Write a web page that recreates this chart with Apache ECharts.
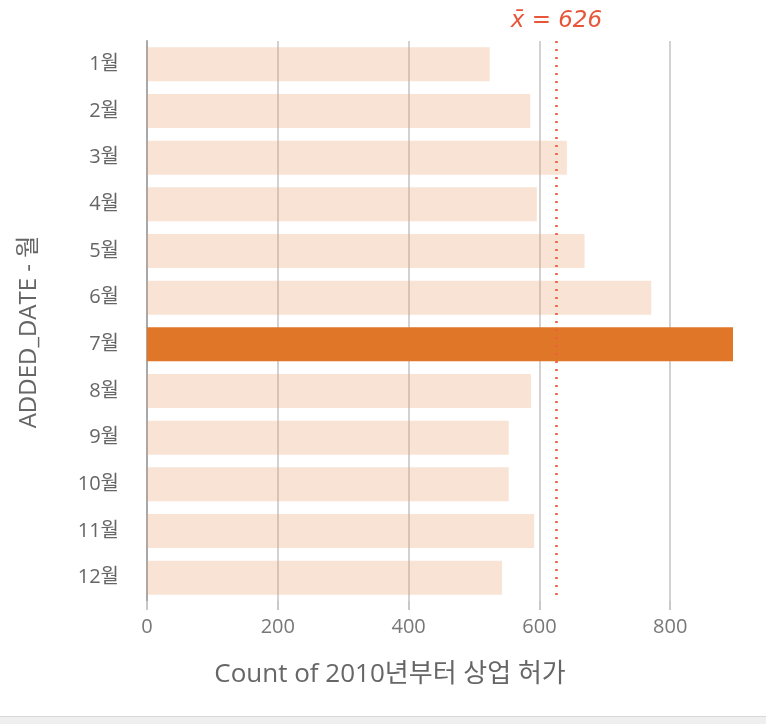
<!DOCTYPE html>
<html>
<head>
<meta charset="utf-8">
<script src="https://cdn.jsdelivr.net/npm/echarts@6/dist/echarts.min.js"></script>
<style>
  html, body { margin: 0; padding: 0; background: #fff; }
  #chart { width: 766px; height: 724px; }
</style>
</head>
<body>
<div id="chart"></div>
<script>
// Monthly counts of business permits since 2010
const months = ['1월', '2월', '3월', '4월', '5월', '6월', '7월', '8월', '9월', '10월', '11월', '12월'];
const counts = [524, 586, 642, 596, 669, 771, 896, 587, 553, 553, 592, 543];
const highlightMonth = '7월';
const xTicks = [0, 200, 400, 600, 800];

const FONT = '"Open Sans", "Noto Sans CJK KR", sans-serif';
const LIGHT = 'rgba(235,162,112,0.3)';
const DARK = '#E07628';

const chart = echarts.init(document.getElementById('chart'), null, { renderer: 'canvas' });

chart.setOption({
  animation: false,
  backgroundColor: '#fff',
  grid: { left: 147, right: 33, top: 41, height: 560, containLabel: false },
  xAxis: {
    type: 'value',
    min: xTicks[0],
    max: Math.max(...counts),
    interval: 200,
    name: 'Count of 2010년부터 상업 허가',
    nameLocation: 'middle',
    nameGap: 61,
    nameTextStyle: {
      fontFamily: FONT, fontSize: 26, color: '#666', verticalAlign: 'top',
      padding: [0, 100, 0, 0]
    },
    axisLine: { show: false },
    axisTick: { show: true, length: 9, lineStyle: { color: '#c8c8c8', width: 2 } },
    axisLabel: {
      margin: 16, fontFamily: FONT, fontSize: 20, color: '#777',
      showMaxLabel: false,
      formatter: v => (xTicks.includes(v) ? String(v) : '')
    },
    splitLine: { show: true, showMaxLine: false, lineStyle: { color: '#d2d2d2', width: 2 } }
  },
  yAxis: {
    type: 'category',
    data: months,
    inverse: true,
    name: 'ADDED_DATE - 월',
    nameLocation: 'middle',
    nameGap: 106,
    nameRotate: 90,
    nameTextStyle: { fontFamily: FONT, fontSize: 24, color: '#666', padding: [0, 22, 0, 0] },
    axisLine: { show: true, lineStyle: { color: '#a8a8a8', width: 2 } },
    axisTick: { show: false },
    axisLabel: { margin: 28, fontFamily: FONT, fontSize: 20, color: '#666' }
  },
  series: [{
    type: 'bar',
    barCategoryGap: '27%',
    z: 3,
    data: counts.map((v, i) => ({
      value: v,
      itemStyle: { color: months[i] === highlightMonth ? DARK : LIGHT }
    })),
    markLine: {
      silent: true,
      symbol: 'none',
      lineStyle: { color: '#E8603C', type: [2, 6], width: 2.5 },
      label: {
        show: true,
        position: 'start',
        distance: 8,
        formatter: p => 'x̄ = ' + Math.round(p.value),
        fontFamily: '"DejaVu Sans", sans-serif',
        fontStyle: 'italic',
        fontSize: 23,
        color: '#E8563A'
      },
      data: [{ type: 'average' }]
    }
  }],
  graphic: [
    { type: 'rect', left: 0, top: 716, shape: { width: 766, height: 8 }, style: { fill: '#efefef' } },
    { type: 'line', shape: { x1: 0, y1: 716.5, x2: 766, y2: 716.5 }, style: { stroke: '#d8d8d8', lineWidth: 1 } }
  ]
});
</script>
</body>
</html>
